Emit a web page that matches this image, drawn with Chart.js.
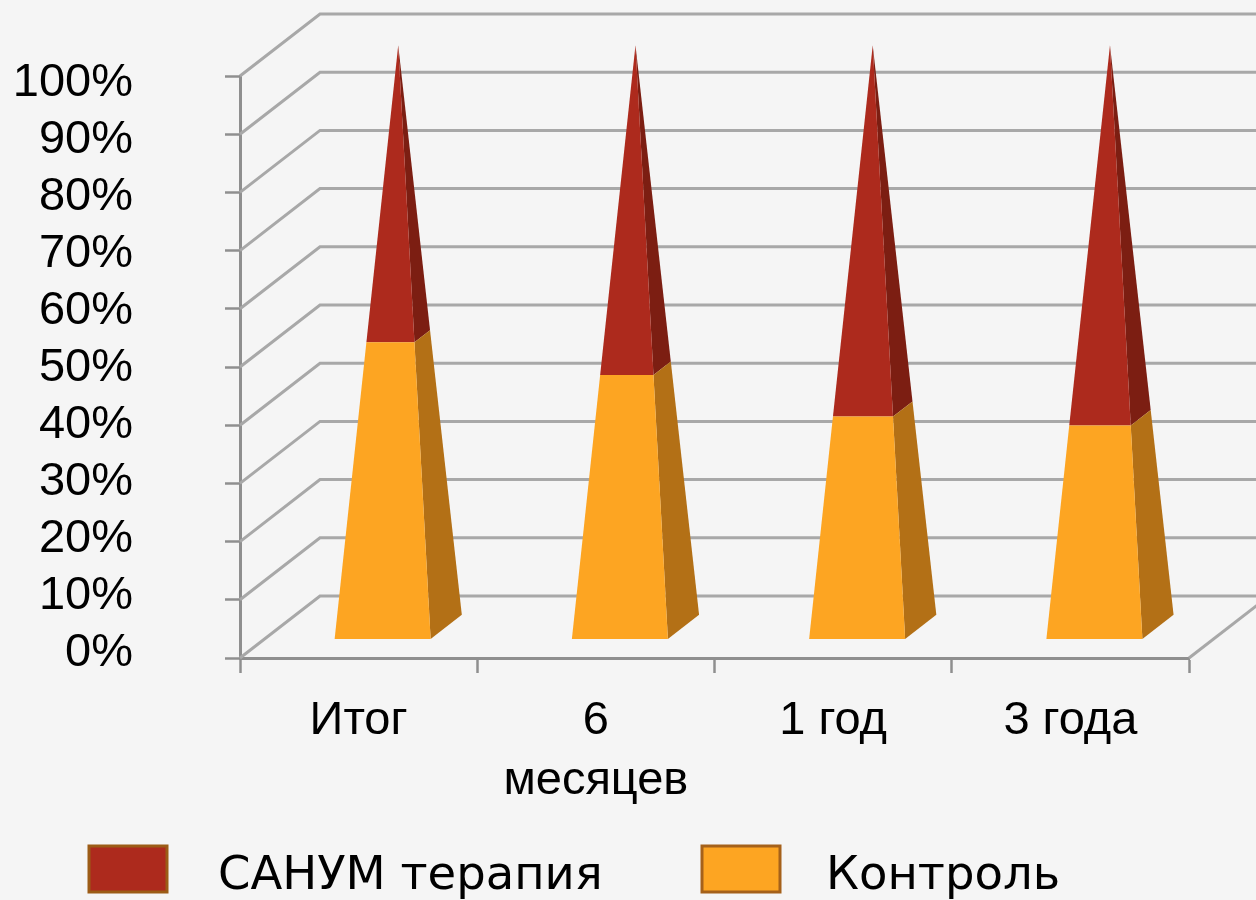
<!DOCTYPE html>
<html>
<head>
<meta charset="utf-8">
<script src="https://cdn.jsdelivr.net/npm/chart.js@4"></script>
<style>
  html, body { margin: 0; padding: 0; background: #f5f5f5; }
  canvas { display: block; }
</style>
</head>
<body>
<canvas id="chart" width="1256" height="900"></canvas>
<script>
// Data
const categories = ['Итог', ['6', 'месяцев'], '1 год', '3 года'];
const controlValues = [50, 44.5, 37.5, 36];
const sanumValues = [50, 55.5, 62.5, 64];
const seriesNames = ['САНУМ терапия', 'Контроль'];

const GRID_COLOR = '#a8a8a8';
const AXIS_COLOR = '#8f8f8f';
const DEPTH_X = 80;
const DEPTH_Y = -62;
const FRONT_DEPTH = 0.3;
const BACK_DEPTH = 0.69;
const MID_DEPTH = 0.495;

const lerp = (a, b, t) => ({ x: a.x + (b.x - a.x) * t, y: a.y + (b.y - a.y) * t });

function fillPoly(ctx, pts, color) {
  ctx.beginPath();
  pts.forEach((p, i) => (i ? ctx.lineTo(p.x, p.y) : ctx.moveTo(p.x, p.y)));
  ctx.closePath();
  ctx.fillStyle = color;
  ctx.fill();
}

// Back wall and side wall lines, from the y scale ticks
const wallsPlugin = {
  id: 'walls',
  beforeDatasetsDraw(chart) {
    const { ctx, chartArea, scales: { y } } = chart;
    ctx.save();
    ctx.strokeStyle = GRID_COLOR;
    ctx.lineWidth = 3;
    y.ticks.forEach(t => {
      const py = y.getPixelForValue(t.value);
      ctx.beginPath();
      ctx.moveTo(chartArea.left, py);
      ctx.lineTo(chartArea.left + DEPTH_X, py + DEPTH_Y);
      ctx.lineTo(chartArea.right + DEPTH_X, py + DEPTH_Y);
      ctx.stroke();
    });
    // floor edge on the right
    const y0 = y.getPixelForValue(0);
    ctx.beginPath();
    ctx.moveTo(chartArea.right, y0);
    ctx.lineTo(chartArea.right + DEPTH_X, y0 + DEPTH_Y);
    ctx.stroke();
    ctx.restore();
  }
};

// Stacked bars drawn as slices of a pyramid
const pyramidPlugin = {
  id: 'pyramid',
  beforeDatasetDraw(chart, args) {
    const { ctx, scales: { y } } = chart;
    const ds = chart.data.datasets[args.index];
    const y0 = y.getPixelForValue(0);
    const y100 = y.getPixelForValue(100);
    args.meta.data.forEach(bar => {
      const p = bar.getProps(['x', 'y', 'base', 'width'], true);
      const half = p.width / 2;
      const fl = { x: p.x - half + DEPTH_X * FRONT_DEPTH, y: y0 + DEPTH_Y * FRONT_DEPTH };
      const fr = { x: p.x + half + DEPTH_X * FRONT_DEPTH, y: y0 + DEPTH_Y * FRONT_DEPTH };
      const br = { x: p.x + half + DEPTH_X * BACK_DEPTH, y: y0 + DEPTH_Y * BACK_DEPTH };
      const apex = { x: p.x + DEPTH_X * MID_DEPTH, y: y100 + DEPTH_Y * MID_DEPTH };
      const t0 = (y0 - p.base) / (y0 - y100);
      const t1 = (y0 - p.y) / (y0 - y100);
      fillPoly(ctx, [lerp(fr, apex, t0), lerp(br, apex, t0), lerp(br, apex, t1), lerp(fr, apex, t1)], ds.sideColor);
      fillPoly(ctx, [lerp(fl, apex, t0), lerp(fr, apex, t0), lerp(fr, apex, t1), lerp(fl, apex, t1)], ds.backgroundColor);
    });
    return false;
  }
};

// Legend with a wide gap between swatch and text, which the built-in one cannot do
const legendPlugin = {
  id: 'wideLegend',
  afterDraw(chart) {
    const { ctx } = chart;
    const slots = [{ box: 89, text: 218, ds: 1 }, { box: 702, text: 826, ds: 0 }];
    ctx.save();
    ctx.font = '46.5px "DejaVu Sans"';
    ctx.textBaseline = 'middle';
    slots.forEach(s => {
      const ds = chart.data.datasets[s.ds];
      ctx.fillStyle = ds.backgroundColor;
      ctx.strokeStyle = ds.borderColor;
      ctx.lineWidth = 3;
      ctx.fillRect(s.box, 846, 78, 46);
      ctx.strokeRect(s.box, 846, 78, 46);
      ctx.fillStyle = '#000';
      ctx.fillText(ds.label, s.text, 877);
    });
    ctx.restore();
  }
};

new Chart(document.getElementById('chart'), {
  type: 'bar',
  data: {
    labels: categories,
    datasets: [
      { label: seriesNames[1], data: controlValues, backgroundColor: '#fda522', sideColor: '#b37016', borderColor: '#a5611a' },
      { label: seriesNames[0], data: sanumValues, backgroundColor: '#ad2a1d', sideColor: '#7c1e12', borderColor: '#9c5c16' }
    ]
  },
  plugins: [wallsPlugin, pyramidPlugin, legendPlugin],
  options: {
    responsive: false,
    animation: false,
    barPercentage: 0.405,
    categoryPercentage: 1,
    layout: { padding: { top: 76, right: 67, left: 0, bottom: 0 } },
    plugins: { legend: { display: false }, tooltip: { enabled: false } },
    scales: {
      x: {
        stacked: true,
        afterFit(s) { s.height = 242; s.paddingLeft = 0; s.paddingRight = 0; },
        grid: { offset: true, drawOnChartArea: false, tickLength: 15, tickWidth: 2.5, tickColor: AXIS_COLOR },
        border: { color: AXIS_COLOR, width: 3 },
        ticks: {
          color: '#000',
          padding: 18,
          maxRotation: 0,
          autoSkip: false,
          font: { family: '"Liberation Sans"', size: 47, lineHeight: 1.28 }
        }
      },
      y: {
        stacked: true,
        min: 0,
        max: 100,
        afterFit(s) { s.width = 15; s.paddingTop = 0; s.paddingBottom = 0; },
        grid: { drawOnChartArea: false, tickLength: 15, tickWidth: 2.5, tickColor: AXIS_COLOR },
        border: { color: AXIS_COLOR, width: 3 },
        ticks: { stepSize: 10, display: false }
      },
      // labels sit on a slightly tighter spacing than the grid in the picture
      yLabels: {
        position: 'left',
        min: -0.9,
        max: 101.2,
        afterFit(s) { s.width = 225; s.paddingTop = 0; s.paddingBottom = 0; },
        grid: { display: false, drawTicks: false },
        border: { display: false },
        ticks: {
          stepSize: 10,
          includeBounds: false,
          autoSkip: false,
          padding: 92,
          color: '#000',
          font: { family: '"Liberation Sans"', size: 47 },
          callback: v => v + '%'
        }
      }
    }
  }
});
</script>
</body>
</html>
